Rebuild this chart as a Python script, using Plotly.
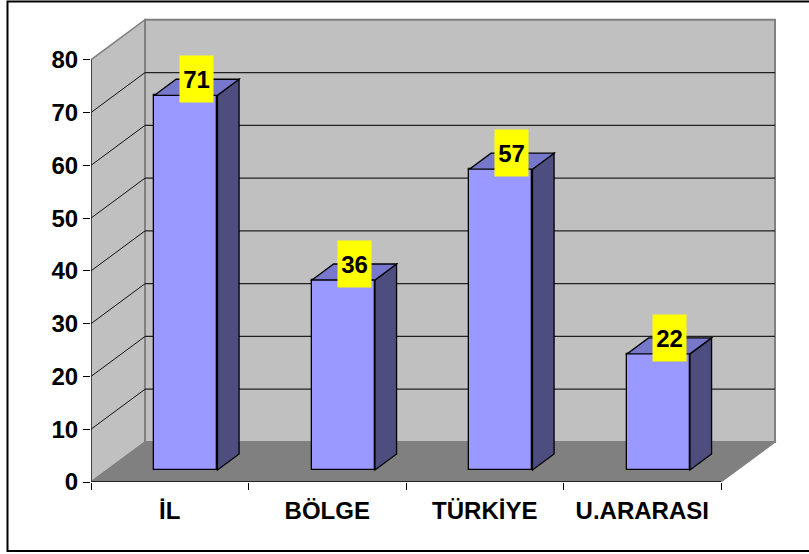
import plotly.graph_objects as go

# ---- data ----
categories = ["İL", "BÖLGE", "TÜRKİYE", "U.ARARASI"]
values = [71, 36, 57, 22]
y_ticks = [0, 10, 20, 30, 40, 50, 60, 70, 80]

# ---- pseudo-3D projection constants (in axis units) ----
DX = 0.343   # depth shift along x (category units)
DY = 7.58    # depth shift along y (value units)
D0, D1 = 0.3, 0.7   # bar depth range (0 = front, 1 = back wall)
BAR_W = 0.4
YMAX = 80
NCAT = len(categories)


def P(x, v, d):
    return (x + d * DX, v + d * DY)


def path(pts):
    return "M " + " L ".join(f"{x:.4f},{y:.4f}" for x, y in pts) + " Z"


def seg(a, b, color, width, layer="below"):
    return dict(type="line", x0=a[0], y0=a[1], x1=b[0], y1=b[1],
                line=dict(color=color, width=width), layer=layer)


shapes = []
# side wall
shapes.append(dict(type="path", path=path([P(0, 0, 0), P(0, YMAX, 0), P(0, YMAX, 1), P(0, 0, 1)]),
                   fillcolor="#C0C0C0", line=dict(color="#808080", width=1.5), layer="below"))
# back wall
shapes.append(dict(type="path", path=path([P(0, 0, 1), P(NCAT, 0, 1), P(NCAT, YMAX, 1), P(0, YMAX, 1)]),
                   fillcolor="#C0C0C0", line=dict(color="#808080", width=2), layer="below"))
# floor
shapes.append(dict(type="path", path=path([P(0, 0, 0), P(NCAT, 0, 0), P(NCAT, 0, 1), P(0, 0, 1)]),
                   fillcolor="#808080", line=dict(color="#808080", width=1.2), layer="below"))
# gridlines on side wall and back wall
for v in y_ticks[1:-1]:
    shapes.append(seg(P(0, v, 0), P(0, v, 1), "#111111", 1))
    shapes.append(seg(P(0, v, 1), P(NCAT, v, 1), "#222222", 1.2))
# front floor edge and vertical axis edge
shapes.append(seg(P(0, 0, 0), P(NCAT, 0, 0), "#222222", 2.2))
shapes.append(seg(P(0, 0, 0), P(0, YMAX, 0), "#111111", 1.2))

# bar side and top faces
for i, v in enumerate(values):
    xl = i + 0.5 - BAR_W / 2
    xr = i + 0.5 + BAR_W / 2
    shapes.append(dict(type="path",
                       path=path([P(xr, 0, D0), P(xr, v, D0), P(xr, v, D1), P(xr, 0, D1)]),
                       fillcolor="#4D4D80", line=dict(color="black", width=1.3), layer="above"))
    shapes.append(dict(type="path",
                       path=path([P(xl, v, D0), P(xr, v, D0), P(xr, v, D1), P(xl, v, D1)]),
                       fillcolor="#7777CC", line=dict(color="black", width=1.3), layer="above"))

# layout geometry (pixels)
PLOT_L, PLOT_W, PLOT_BOTTOM_PX, PLOT_H = 91, 700, 482, 475
shapes.append(dict(type="rect", xref="paper", yref="paper",
                   x0=(7.5 - PLOT_L) / PLOT_W, x1=(815 - PLOT_L) / PLOT_W,
                   y0=(PLOT_BOTTOM_PX - 551) / PLOT_H, y1=(PLOT_BOTTOM_PX - 1.5) / PLOT_H,
                   line=dict(color="black", width=2), fillcolor="rgba(0,0,0,0)"))

fig = go.Figure()
fig.add_trace(go.Bar(
    x=[i + 0.5 + D0 * DX for i in range(NCAT)],
    y=values,
    base=D0 * DY,
    width=BAR_W,
    marker=dict(color="#9999FF", line=dict(color="black", width=1.3)),
    hoverinfo="skip",
    showlegend=False,
))

annotations = []
for i, v in enumerate(values):
    annotations.append(dict(
        x=i + 0.5 + (D0 + D1) / 2 * DX, y=v + D1 * DY, xref="x", yref="y",
        text=str(v), showarrow=False, xanchor="center", yanchor="middle",
        bgcolor="#FFFF00", width=33, height=46, borderpad=0,
        font=dict(family="Liberation Sans", size=24, color="black", weight="bold"),
    ))

tickfont = dict(family="Liberation Sans", size=24, color="black", weight="bold")

fig.update_layout(
    width=809, height=554,
    margin=dict(l=PLOT_L, r=809 - PLOT_L - PLOT_W, t=PLOT_BOTTOM_PX - PLOT_H,
                b=554 - PLOT_BOTTOM_PX, pad=0, autoexpand=False),
    paper_bgcolor="white", plot_bgcolor="white",
    shapes=shapes, annotations=annotations,
    xaxis=dict(range=[0, PLOT_W / 157.5], tickmode="array",
               tickvals=[i + 0.5 for i in range(NCAT)], ticktext=categories,
               ticks="", showgrid=False, zeroline=False, showline=False,
               tickfont=tickfont, ticklabelstandoff=12, automargin=False,
               minor=dict(tickmode="array", tickvals=list(range(NCAT + 1)), ticks="outside",
                          ticklen=7, tickcolor="black", tickwidth=1, showgrid=False)),
    yaxis=dict(range=[0, 90], tickmode="array", tickvals=y_ticks,
               ticks="outside", ticklen=7, tickcolor="black", tickwidth=1,
               showgrid=False, zeroline=False, showline=False, tickfont=tickfont,
               automargin=False),
    bargap=0,
)

fig.write_html("out.html", config={"displayModeBar": False},
               post_script="document.body.style.margin='0';")
